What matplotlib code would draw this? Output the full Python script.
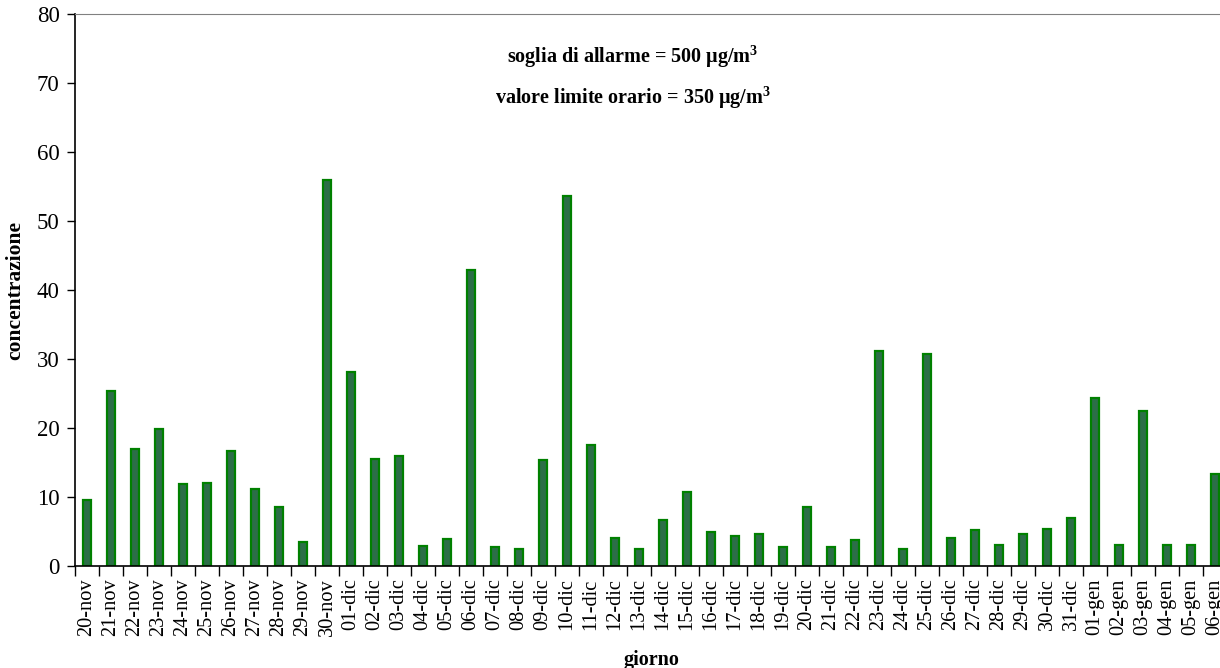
import matplotlib
matplotlib.use('Agg')
import matplotlib.pyplot as plt
import numpy as np

plt.rcParams['font.family'] = 'Liberation Serif'
plt.rcParams['mathtext.fontset'] = 'custom'
plt.rcParams['mathtext.rm'] = 'Liberation Serif'
plt.rcParams['mathtext.bf'] = 'Liberation Serif:bold'

# days and concentration values
giorni = ['20-nov', '21-nov', '22-nov', '23-nov', '24-nov', '25-nov', '26-nov', '27-nov',
          '28-nov', '29-nov', '30-nov', '01-dic', '02-dic', '03-dic', '04-dic', '05-dic',
          '06-dic', '07-dic', '08-dic', '09-dic', '10-dic', '11-dic', '12-dic', '13-dic',
          '14-dic', '15-dic', '16-dic', '17-dic', '18-dic', '19-dic', '20-dic', '21-dic',
          '22-dic', '23-dic', '24-dic', '25-dic', '26-dic', '27-dic', '28-dic', '29-dic',
          '30-dic', '31-dic', '01-gen', '02-gen', '03-gen', '04-gen', '05-gen', '06-gen']
concentrazione = [9.5, 25.4, 16.9, 19.9, 11.9, 12.0, 16.7, 11.2,
                  8.6, 3.5, 55.9, 28.1, 15.5, 16.0, 2.9, 3.9,
                  42.9, 2.8, 2.4, 15.3, 53.6, 17.6, 4.1, 2.4,
                  6.6, 10.7, 5.0, 4.4, 4.7, 2.8, 8.6, 2.8,
                  3.7, 31.2, 2.4, 30.7, 4.1, 5.2, 3.0, 4.7,
                  5.4, 7.0, 24.3, 3.0, 22.4, 3.1, 3.0, 13.3]

fig = plt.figure(figsize=(12.2, 6.68), dpi=100)
ax = fig.add_axes([75 / 1220, 102 / 668, 1152 / 1220, 552 / 668])

x = np.arange(len(giorni))
ax.bar(x, concentrazione, width=0.36, color='#2c6e48', edgecolor='#008000', linewidth=1.6)

ax.set_xlim(-0.5, len(giorni) - 0.5)
ax.set_ylim(0, 80)
ax.set_yticks(range(0, 81, 10))
ax.tick_params(axis='y', labelsize=16.5, length=6, width=1, pad=5)

ax.set_xticks(x)
ax.set_xticklabels(giorni, rotation=90, fontsize=14.7)
ax.set_xticks(x - 0.5, minor=True)
ax.tick_params(axis='x', which='major', length=0, pad=9)
ax.tick_params(axis='x', which='minor', length=7, width=1)

ax.spines['top'].set_color('#808080')
ax.spines['right'].set_visible(False)
ax.spines['left'].set_linewidth(1.2)
ax.spines['bottom'].set_linewidth(1.2)

ax.set_ylabel('concentrazione', fontsize=15.5, fontweight='bold', labelpad=8)
ax.set_xlabel('giorno', fontsize=14.5, fontweight='bold', labelpad=10)

fig.text(633 / 1220, 1 - 57 / 668, r'soglia di allarme = 500 µg/m$^{\mathbf{3}}$',
         ha='center', va='center', fontsize=14.5, fontweight='bold')
fig.text(633 / 1220, 1 - 98 / 668, r'valore limite orario = 350 µg/m$^{\mathbf{3}}$',
         ha='center', va='center', fontsize=14.5, fontweight='bold')

fig.savefig('out.png', dpi=100)
